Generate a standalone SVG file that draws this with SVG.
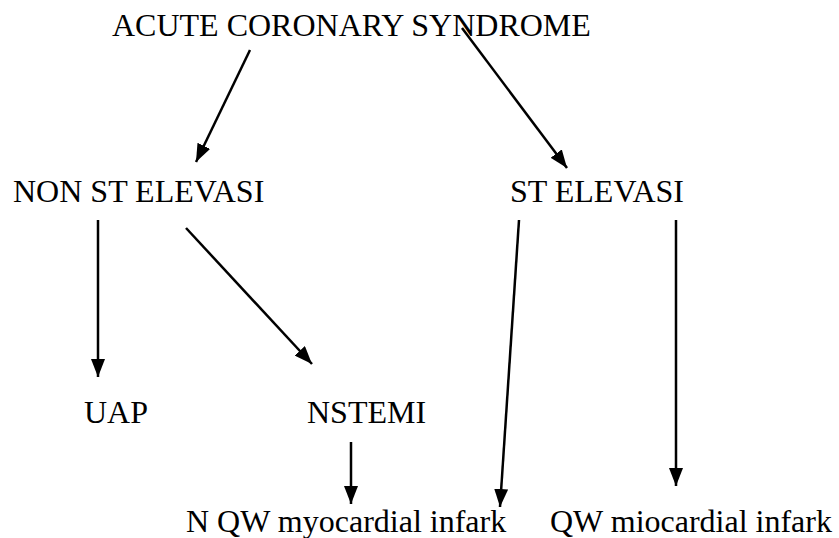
<svg xmlns="http://www.w3.org/2000/svg" width="839" height="538" viewBox="0 0 839 538">
  <style>
    text { font-family: "Liberation Serif", Tinos, "Times New Roman", serif; font-size: 32px; fill: #000; }
    .edge { stroke: #000; stroke-width: 2.5; fill: none; marker-end: url(#head); }
  </style>
  <defs>
    <marker id="head" markerUnits="userSpaceOnUse" markerWidth="18" markerHeight="14" refX="18" refY="7" orient="auto">
      <path d="M0,0 L18,7 L0,14 z" fill="#000"/>
    </marker>
  </defs>
  <rect width="839" height="538" fill="#fff"/>

  <!-- nodes -->
  <g id="acs"><text x="112" y="36">ACUTE CORONARY SYNDROME</text></g>
  <g id="non-st"><text x="13" y="202">NON ST ELEVASI</text></g>
  <g id="st"><text x="510" y="202">ST ELEVASI</text></g>
  <g id="uap"><text x="84" y="423">UAP</text></g>
  <g id="nstemi"><text x="307" y="423">NSTEMI</text></g>
  <g id="nqw"><text x="186" y="532">N QW myocardial infark</text></g>
  <g id="qw"><text x="550" y="532">QW miocardial infark</text></g>

  <!-- arrows -->
  <g id="connectors">
    <line class="edge" x1="250" y1="50" x2="196" y2="162"/>
    <line class="edge" x1="462" y1="28" x2="567" y2="168"/>
    <line class="edge" x1="98" y1="220" x2="98" y2="377"/>
    <line class="edge" x1="186" y1="228" x2="312" y2="364"/>
    <line class="edge" x1="519" y1="220" x2="500" y2="507"/>
    <line class="edge" x1="676" y1="220" x2="676" y2="486"/>
    <line class="edge" x1="351" y1="442" x2="351" y2="504"/>
  </g>
</svg>
